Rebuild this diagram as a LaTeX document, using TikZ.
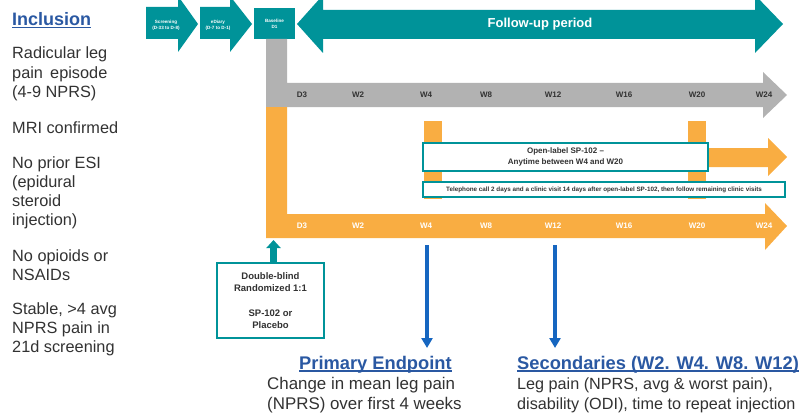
\documentclass[tikz,border=0pt]{standalone}
\usepackage{fontspec}
\setmainfont{Liberation Sans}
\usetikzlibrary{arrows.meta}
\definecolor{tealc}{RGB}{0,147,153}
\definecolor{greyc}{RGB}{178,178,178}
\definecolor{orangec}{RGB}{249,173,66}
\definecolor{bluec}{RGB}{22,102,192}
\definecolor{headc}{RGB}{42,88,162}
\definecolor{txtc}{RGB}{50,50,50}
\newcommand\fsz[2]{\fontsize{#1}{#2}\selectfont}
\begin{document}
\begin{tikzpicture}[x=1pt,y=-1pt,
  lbl/.style={font=\fsz{8}{9}\bfseries, text=txtc, inner sep=0},
  lblw/.style={lbl, text=white},
  tinytxt/.style={font=\fsz{4.6}{6}\bfseries, text=white, align=center, inner sep=0},
  inc/.style={anchor=base west, inner sep=0, font=\fsz{16.3}{19.3}, text=txtc},
  body/.style={anchor=base west, inner sep=0, font=\fsz{16.9}{20}, text=txtc},
  headtxt/.style={anchor=base west, inner sep=0, font=\fsz{18.3}{20}\bfseries, text=headc},
  uline/.style={headc, line width=1.2pt},
  tealbox/.style={draw=tealc, line width=1.8pt, fill=white, inner sep=0, text=txtc, align=center},
  bluearrow/.style={bluec, line width=3.5pt, -{Triangle[width=11pt,length=10pt]}}
]
\useasboundingbox (0,0) rectangle (799,417);

% ---------- left column ----------
\node[headtxt, font=\fsz{18}{20}\bfseries] (inc) at (12,25.5) {Inclusion};
\draw[uline] ([yshift=-2pt]inc.base west) -- ([yshift=-2pt]inc.base east);
\node[inc] (i1a) at (12,59) {Radicular leg};
\node[inc] (i1b) at (12,78.3) {pain\, episode};
\node[inc] (i1c) at (12,97.6) {(4-9 NPRS)};
\node[inc] (i2a) at (12,133) {MRI confirmed};
\node[inc] (i3a) at (12,168) {No prior ESI};
\node[inc] (i3b) at (12,187.3) {(epidural};
\node[inc] (i3c) at (12,206.6) {steroid};
\node[inc] (i3d) at (12,225.9) {injection)};
\node[inc] (i4a) at (12,261) {No opioids or};
\node[inc] (i4b) at (12,280.3) {NSAIDs};
\node[inc] (i5a) at (12,314) {Stable, >4 avg};
\node[inc] (i5b) at (12,333.3) {NPRS pain in};
\node[inc] (i5c) at (12,352.6) {21d screening};

% ---------- top timeline ----------
\fill[tealc] (146,7)--(178,7)--(178,-4)--(198,24)--(178,52)--(178,39)--(146,39)--cycle;
\node[tinytxt] (scr) at (166,25) {Screening\\(D-33 to D-8)};
\fill[tealc] (200,7)--(230,7)--(230,-4)--(252,24)--(230,52)--(230,39)--(200,39)--cycle;
\node[tinytxt] (edi) at (218,25) {eDiary\\(D-7 to D-1)};
\node[fill=tealc, minimum width=41, minimum height=31, inner sep=0] (base) at (274.5,23.5) {};
\node[tinytxt] (basetxt) at (base.center) {Baseline\\D1};
\fill[tealc] (297,24)--(323,-5)--(323,10)--(755,10)--(755,-5)--(783,24)--(755,53)--(755,39)--(323,39)--(323,53)--cycle;
\node[font=\fsz{13}{15}\bfseries, text=white] (fu) at (540,24) {Follow-up period};

% ---------- grey and orange L arrows ----------
\fill[greyc] (266,39)--(287,39)--(287,83)--(763,83)--(763,72)--(787,95)--(763,118)--(763,107)--(266,107)--cycle;
\fill[orangec] (266,107)--(287,107)--(287,214)--(765,214)--(765,203)--(787,226)--(765,250)--(765,238)--(266,238)--cycle;
\foreach \x/\t in {302/D3,358/W2,426/W4,486/W8,553/W12,624/W16,697/W20,764/W24}{
  \node[lbl] (g\t) at (\x,95) {\t};
  \node[lblw] (o\t) at (\x,226) {\t};
}

% ---------- open-label part ----------
\fill[orangec] (424,121) rectangle (442,199);
\fill[orangec] (688,121) rectangle (706,199);
\fill[orangec] (706,148)--(768,148)--(768,138)--(787,157)--(768,176)--(768,167)--(706,167)--cycle;
\node[tealbox, minimum width=285, minimum height=28, font=\fsz{8}{11}\bfseries] (ol) at (565.5,157)
  {Open-label SP-102 --\\Anytime between W4 and W20};
\node[tealbox, minimum width=362, minimum height=15, font=\fsz{6.3}{7}\bfseries] (tel) at (604,189.5)
  {Telephone call 2 days and a clinic visit 14 days after open-label SP-102, then follow remaining clinic visits};

% ---------- randomisation ----------
\node[tealbox, minimum width=107, minimum height=75, font=\fsz{9.5}{12.3}\bfseries] (db) at (270.5,300.5)
  {Double-blind\\Randomized 1:1\\[12.3pt]SP-102 or\\Placebo};
\coordinate (rnd) at (273.5,240);
\draw[tealc, line width=6.5pt, -{Triangle[width=14pt,length=8pt]}] (db.north -| rnd) -- (rnd);

% ---------- endpoints ----------
\coordinate (p1s) at (427,245);
\coordinate (p1e) at (427,348);
\coordinate (p2s) at (555,245);
\coordinate (p2e) at (555,348);
\draw[bluearrow] (p1s) -- (p1e);
\draw[bluearrow] (p2s) -- (p2e);

\node[headtxt] (pe) at (299,369) {Primary Endpoint};
\draw[uline] ([yshift=-2pt]pe.base west) -- ([yshift=-2pt]pe.base east);
\node[body] (pe1) at (267,389) {Change in mean leg pain};
\node[body] (pe2) at (267,409) {(NPRS) over first 4 weeks};

\node[headtxt] (se) at (517,369) {Secondaries (W2. W4. W8. W12)};
\draw[uline] ([yshift=-2pt]se.base west) -- ([yshift=-2pt]se.base east);
\node[body, font=\fsz{16.2}{20}] (se1) at (517,389) {Leg pain (NPRS, avg \& worst pain),};
\node[body, font=\fsz{16.2}{20}] (se2) at (517,409) {disability (ODI), time to repeat injection};
\end{tikzpicture}
\end{document}
